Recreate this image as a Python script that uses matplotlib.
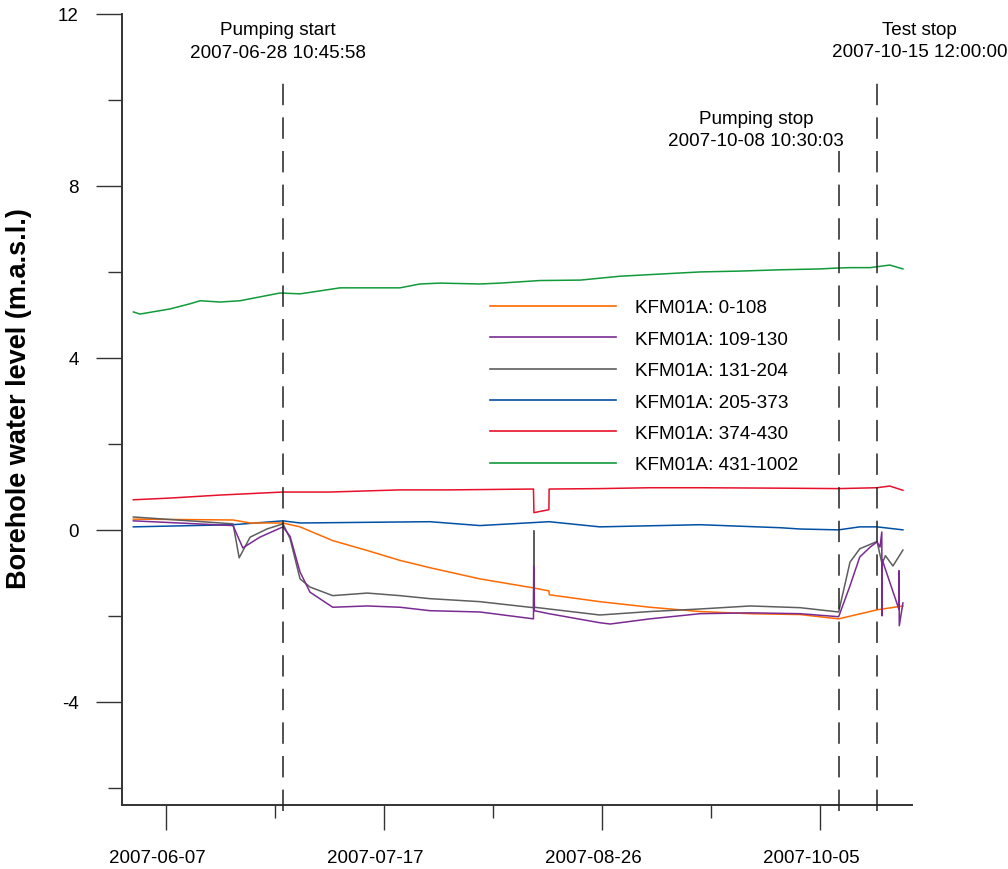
import matplotlib
matplotlib.use("Agg")
import matplotlib.pyplot as plt
import matplotlib.dates as mdates
import matplotlib.transforms as mtransforms
from matplotlib.lines import Line2D
import pandas as pd

plt.rcParams['font.family'] = ['Liberation Sans', 'DejaVu Sans']

# ---------------- data ----------------
green_dates = ["2007-06-01 00:00", "2007-06-02 05:00", "2007-06-05 00:00", "2007-06-07 18:00",
               "2007-06-11 10:00", "2007-06-13 06:00", "2007-06-16 22:00", "2007-06-20 14:00",
               "2007-06-24 06:00", "2007-06-27 22:00", "2007-07-01 14:00", "2007-07-05 07:00",
               "2007-07-08 22:00", "2007-07-16 07:00", "2007-07-19 22:00", "2007-07-23 14:00",
               "2007-07-27 07:00", "2007-08-03 14:00", "2007-08-07 07:00", "2007-08-14 14:00",
               "2007-08-22 00:00", "2007-08-29 07:00", "2007-09-05 14:00", "2007-09-13 00:00",
               "2007-09-20 07:00", "2007-09-27 17:00", "2007-10-05 00:00", "2007-10-08 00:00",
               "2007-10-10 12:00", "2007-10-14 05:00", "2007-10-17 19:00", "2007-10-20 05:00"]
green_vals = [5.07, 5.02, 5.08, 5.14, 5.26, 5.33, 5.30, 5.33, 5.42, 5.51, 5.49, 5.56,
              5.63, 5.63, 5.63, 5.72, 5.74, 5.72, 5.74, 5.80, 5.81, 5.90, 5.95, 6.00,
              6.02, 6.05, 6.07, 6.09, 6.10, 6.10, 6.16, 6.07]

red_dates = ["2007-06-01 00:00", "2007-06-07 18:00", "2007-06-16 22:00", "2007-06-28 11:00",
             "2007-07-07 02:00", "2007-07-19 22:00", "2007-07-29 02:00", "2007-08-13 10:00",
             "2007-08-13 12:00", "2007-08-16 06:00", "2007-08-16 07:00", "2007-08-25 14:00",
             "2007-09-03 19:00", "2007-09-13 00:00", "2007-09-27 17:00", "2007-10-08 10:00",
             "2007-10-15 11:00", "2007-10-17 19:00", "2007-10-20 05:00"]
red_vals = [0.70, 0.74, 0.81, 0.88, 0.88, 0.93, 0.93, 0.95, 0.40, 0.47, 0.95, 0.96,
            0.98, 0.98, 0.97, 0.96, 0.98, 1.02, 0.92]

blue_dates = ["2007-06-01 00:00", "2007-06-19 07:00", "2007-06-28 11:00", "2007-07-01 14:00",
              "2007-07-25 10:00", "2007-08-03 14:00", "2007-08-16 07:00", "2007-08-25 14:00",
              "2007-09-13 00:00", "2007-09-27 17:00", "2007-10-01 08:00", "2007-10-08 10:00",
              "2007-10-12 07:00", "2007-10-15 11:00", "2007-10-20 05:00"]
blue_vals = [0.07, 0.12, 0.21, 0.16, 0.19, 0.10, 0.19, 0.07, 0.12, 0.05, 0.02, 0.00,
             0.07, 0.07, 0.00]

orange_dates = ["2007-06-01 00:00", "2007-06-19 07:00", "2007-06-22 10:00", "2007-06-28 11:00",
                "2007-07-01 14:00", "2007-07-07 14:00", "2007-07-13 22:00", "2007-07-19 22:00",
                "2007-07-25 10:00", "2007-08-03 14:00", "2007-08-13 10:00", "2007-08-16 06:00",
                "2007-08-16 08:00", "2007-08-25 14:00", "2007-09-03 19:00", "2007-09-13 00:00",
                "2007-09-22 05:00", "2007-10-01 08:00", "2007-10-08 10:00", "2007-10-15 11:00",
                "2007-10-20 05:00"]
orange_vals = [0.25, 0.23, 0.16, 0.16, 0.07, -0.25, -0.48, -0.71, -0.88, -1.14, -1.35, -1.42,
               -1.51, -1.67, -1.80, -1.90, -1.95, -1.97, -2.07, -1.86, -1.77]

gray_dates = ["2007-06-01 00:00", "2007-06-19 07:00", "2007-06-20 10:00", "2007-06-22 10:00",
              "2007-06-25 12:00", "2007-06-28 11:00", "2007-06-29 18:00", "2007-07-01 14:00",
              "2007-07-03 10:00", "2007-07-07 14:00", "2007-07-13 22:00", "2007-07-19 22:00",
              "2007-07-25 10:00", "2007-08-03 14:00", "2007-08-13 10:00", "2007-08-13 12:00",
              "2007-08-13 14:00", "2007-08-16 06:00", "2007-08-25 14:00", "2007-09-03 19:00",
              "2007-09-13 00:00", "2007-09-22 05:00", "2007-10-01 08:00", "2007-10-08 10:00",
              "2007-10-10 12:00", "2007-10-12 07:00", "2007-10-15 11:00", "2007-10-16 09:00",
              "2007-10-17 00:00", "2007-10-18 09:00", "2007-10-20 05:00"]
gray_vals = [0.30, 0.14, -0.65, -0.17, 0.02, 0.14, -0.20, -1.14, -1.33, -1.53, -1.47, -1.53,
             -1.60, -1.67, -1.81, -0.02, -1.80, -1.84, -1.98, -1.90, -1.84, -1.77, -1.81, -1.91,
             -0.75, -0.44, -0.27, -0.79, -0.60, -0.84, -0.47]

purple_dates = ["2007-06-01 00:00", "2007-06-19 07:00", "2007-06-21 02:00", "2007-06-24 05:00",
                "2007-06-28 11:00", "2007-06-29 18:00", "2007-07-01 14:00", "2007-07-03 10:00",
                "2007-07-07 14:00", "2007-07-13 22:00", "2007-07-19 22:00", "2007-07-25 10:00",
                "2007-08-03 14:00", "2007-08-13 10:00", "2007-08-13 12:00", "2007-08-13 14:00",
                "2007-08-16 06:00", "2007-08-25 14:00", "2007-08-27 12:00", "2007-09-03 19:00",
                "2007-09-13 00:00", "2007-09-22 05:00", "2007-10-01 08:00", "2007-10-08 10:00",
                "2007-10-10 12:00", "2007-10-12 07:00", "2007-10-14 05:00", "2007-10-15 11:00",
                "2007-10-16 00:00", "2007-10-16 08:00", "2007-10-16 09:00", "2007-10-16 10:00",
                "2007-10-19 11:00", "2007-10-19 12:00", "2007-10-19 13:00", "2007-10-20 05:00"]
purple_vals = [0.21, 0.10, -0.42, -0.17, 0.07, -0.15, -0.98, -1.45, -1.80, -1.77, -1.80, -1.88,
               -1.91, -2.07, -0.84, -1.88, -1.95, -2.16, -2.19, -2.07, -1.95, -1.93, -1.95, -2.02,
               -1.30, -0.63, -0.40, -0.28, -0.40, -0.05, -2.00, -0.70, -1.84, -0.95, -2.23, -1.70]

series_labels = ["KFM01A: 0-108", "KFM01A: 109-130", "KFM01A: 131-204",
                 "KFM01A: 205-373", "KFM01A: 374-430", "KFM01A: 431-1002"]

event_names = ["Pumping start", "Pumping stop", "Test stop"]
event_times = ["2007-06-28 10:45:58", "2007-10-08 10:30:03", "2007-10-15 12:00:00"]
event_tops = [10.45, 8.85, 10.45]

xtick_labels = ["2007-06-07", "2007-07-17", "2007-08-26", "2007-10-05"]
xminor_labels = ["2007-06-27", "2007-08-06", "2007-09-15"]
ymajor = [-4, 0, 4, 8, 12]
yminor = [-6, -2, 2, 6, 10]

# ---------------- figure ----------------
W, H = 1008, 870
fig = plt.figure(figsize=(W / 100, H / 100), dpi=100)
ax = fig.add_axes([122 / W, 64 / H, 790 / W, 791 / H])

def T(lst):
    return pd.to_datetime(lst)

c_orange = "#FF6A00"
c_purple = "#7A2B92"
c_gray = "#5E5E5E"
c_blue = "#0050A5"
c_red = "#E8102A"
c_green = "#109A3A"

lw = 1.1
ax.plot(T(green_dates), green_vals, color=c_green, lw=lw, zorder=2)
ax.plot(T(red_dates), red_vals, color=c_red, lw=lw, zorder=2)
ax.plot(T(blue_dates), blue_vals, color=c_blue, lw=lw, zorder=2)
ax.plot(T(orange_dates), orange_vals, color=c_orange, lw=lw, zorder=3)
ax.plot(T(gray_dates), gray_vals, color=c_gray, lw=lw, zorder=3)
ax.plot(T(purple_dates), purple_vals, color=c_purple, lw=lw, zorder=4)

handles = [Line2D([], [], color=c, lw=1.2) for c in
           [c_orange, c_purple, c_gray, c_blue, c_red, c_green]]
ax.legend(handles, series_labels, loc="upper left", bbox_to_anchor=(0.466, 0.6395),
          frameon=False, fontsize=13.6, handlelength=6.67, handletextpad=1.0,
          labelspacing=0.75, borderpad=0, borderaxespad=0)

# event markers: (x offset px, name y px from top, time y px from top)
event_layout = [(-5, 31, 54), (-83, 120, 142), (42, 31, 53)]
for name, t, top, (dx, yn, yt) in zip(event_names, event_times, event_tops, event_layout):
    tt = pd.Timestamp(t)
    ax.plot([tt, tt], [-6.55, top], color="#222222", lw=1.1,
            linestyle=(0, (14, 8)), clip_on=False, zorder=5)
    xn = mdates.date2num(tt)
    for txt, yp in ((name, yn), (t, yt)):
        ax.annotate(txt, xy=(xn, H - yp), xycoords=("data", "figure pixels"),
                    xytext=(dx * 0.72, 0), textcoords="offset points",
                    ha="center", va="center", fontsize=13.6, annotation_clip=False)

ax.set_ylim(-6.4, 12)
ax.set_xlim(pd.Timestamp("2007-05-29 22:00"), pd.Timestamp("2007-10-21 21:00"))

ax.set_yticks(ymajor)
ax.set_yticks(yminor, minor=True)
ax.set_yticklabels([str(v) for v in ymajor])
ax.set_xticks(mdates.date2num(pd.to_datetime(xtick_labels)))
ax.set_xticks(mdates.date2num(pd.to_datetime(xminor_labels)), minor=True)
ax.set_xticklabels(xtick_labels)

for s in ["top", "right"]:
    ax.spines[s].set_visible(False)
for s in ["left", "bottom"]:
    ax.spines[s].set_color("#333333")
    ax.spines[s].set_linewidth(1.4)

ax.tick_params(axis="both", which="major", labelsize=13.5, color="#333333", width=1.0)
ax.tick_params(axis="x", which="major", length=18, pad=14)
ax.tick_params(axis="x", which="minor", length=9.5, color="#333333", width=1.0)
ax.tick_params(axis="y", which="major", length=19, pad=12)
ax.tick_params(axis="y", which="minor", length=10, color="#333333", width=1.0)

shift = mtransforms.ScaledTranslation(-9 / 100, 0, fig.dpi_scale_trans)
for lab in ax.get_xticklabels():
    lab.set_transform(lab.get_transform() + shift)

ax.set_ylabel("Borehole water level (m.a.s.l.)", fontsize=19.5, fontweight="bold")
ax.yaxis.set_label_coords(-0.114, 0.515)

fig.savefig("out.png", dpi=100)
